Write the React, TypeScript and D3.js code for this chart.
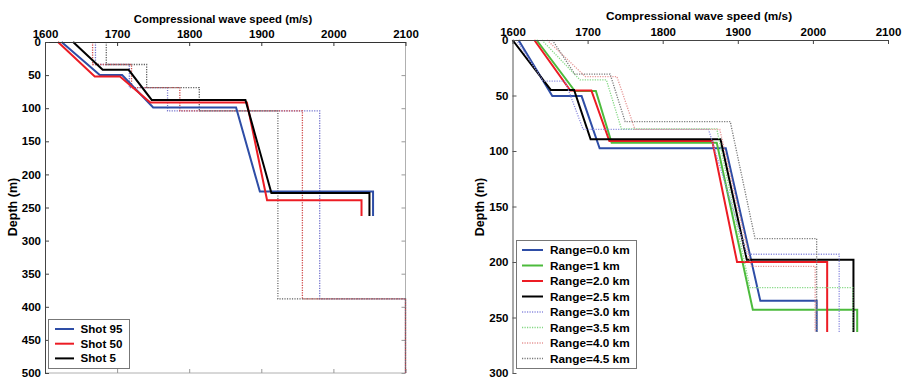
import { useEffect, useRef } from "react";
import * as d3 from "d3";

// shared axis values
const speedTicks = [1600, 1700, 1800, 1900, 2000, 2100];
const leftDepthTicks = [0, 50, 100, 150, 200, 250, 300, 350, 400, 450, 500];
const rightDepthTicks = [0, 50, 100, 150, 200, 250, 300];
const axisTitle = "Compressional wave speed (m/s)";
const depthTitle = "Depth (m)";

// left panel: profiles per shot
const shotNames = ["Shot 95", "Shot 50", "Shot 5"];
const shotColors = ["#2e4da6", "#ec1c24", "#000000"];
const shot95Speed = [1623, 1676, 1707, 1750, 1865, 1898, 2055, 2055];
const shot95Depth = [0, 50, 50, 99, 99, 226, 226, 263];
const shot50Speed = [1618, 1669, 1704, 1746, 1880, 1908, 2039, 2039];
const shot50Depth = [0, 52, 52, 91.5, 91.5, 239, 239, 263];
const shot5Speed = [1639, 1680, 1716, 1748, 1878, 1914, 2050, 2050];
const shot5Depth = [0, 42, 42, 87.5, 87.5, 228, 228, 263];

// left panel: dotted layered profiles (one speed per layer)
const layerDepths = [0, 34, 69, 104, 388, 500];
const layerBlueSpeed = [1670, 1717, 1770, 1981, 2100];
const layerRedSpeed = [1666, 1720, 1787, 1957, 2100];
const layerGraySpeed = [1685, 1741, 1814, 1923, 2100];

// right panel: profiles per range
const rangeNames = [
  "Range=0.0 km",
  "Range=1 km",
  "Range=2.0 km",
  "Range=2.5 km",
  "Range=3.0 km",
  "Range=3.5 km",
  "Range=4.0 km",
  "Range=4.5 km",
];
const rangeColors = ["#2e4da6", "#4cbb3c", "#ec1c24", "#000000", "#8e8ee0", "#84d884", "#e69696", "#7a7a7a"];
const rangeDotted = [false, false, false, false, true, true, true, true];
const range00Speed = [1608, 1653, 1692, 1716, 1884, 1930, 2005, 2005];
const range00Depth = [0, 50.5, 50.5, 97.6, 97.6, 235, 235, 263];
const range10Speed = [1632, 1683, 1711, 1732, 1872, 1920, 2059, 2059];
const range10Depth = [0, 46, 46, 92.5, 92.5, 243, 243, 263];
const range20Speed = [1629, 1677, 1705, 1729, 1866, 1899, 2019, 2019];
const range20Depth = [0, 45.5, 45.5, 91, 91, 200, 200, 263];
const range25Speed = [1600, 1651, 1682, 1704, 1877, 1912, 2054, 2054];
const range25Depth = [0, 45, 45, 89.5, 89.5, 198, 198, 263];
const range30Speed = [1605, 1641, 1670, 1694, 1861, 1912, 2035, 2035];
const range30Depth = [0, 37, 37, 80.5, 80.5, 193, 193, 263];
const range35Speed = [1639, 1690, 1725, 1745, 1872, 1916, 2053, 2053];
const range35Depth = [0, 36, 36, 80, 80, 223, 223, 263];
const range40Speed = [1646, 1697, 1739, 1763, 1876, 1918, 2003, 2003];
const range40Depth = [0, 33, 33, 80.5, 80.5, 204, 204, 263];
const range45Speed = [1653, 1683, 1730, 1750, 1890, 1923, 2005, 2005];
const range45Depth = [0, 30.7, 30.7, 73.6, 73.6, 179, 179, 263];

const FONT = "'Liberation Sans', Arial, sans-serif";
const DOT = "1.2,1.3";
const fmt = d3.format("d");

type Pt = [number, number];
const zipPts = (s: number[], d: number[]): Pt[] => s.map((v, i) => [v, d[i]]);
const layerPts = (s: number[], depths: number[]): Pt[] =>
  s.flatMap((v, i) => [
    [v, depths[i]] as Pt,
    [v, depths[i + 1]] as Pt,
  ]);

export default function App() {
  const svgRef = useRef<SVGSVGElement>(null);

  useEffect(() => {
    if (!svgRef.current) return;
    const svg = d3.select(svgRef.current);
    svg.selectAll("*").remove();

    const styleText = (g: d3.Selection<SVGGElement, unknown, null, undefined>) =>
      g
        .selectAll("text")
        .attr("font-size", 11.5)
        .attr("font-weight", "bold")
        .attr("font-family", FONT)
        .attr("fill", "#000");

    // ---------- left panel ----------
    const xL = d3.scaleLinear().domain([1600, 2100]).range([45, 405.5]);
    const yL = d3.scaleLinear().domain([0, 500]).range([42, 373]);
    const gL = svg.append("g");

    const lineL = d3
      .line<Pt>()
      .x((p) => xL(p[0]))
      .y((p) => yL(p[1]));

    // box edges (right / bottom lighter)
    gL.append("line").attr("x1", 405.5).attr("x2", 405.5).attr("y1", 42).attr("y2", 373).attr("stroke", "#b0b0b0");
    gL.append("line").attr("x1", 45).attr("x2", 405.5).attr("y1", 373).attr("y2", 373).attr("stroke", "#b0b0b0");
    gL.append("g")
      .attr("transform", "translate(0,373)")
      .call(d3.axisBottom(xL).tickValues(speedTicks).tickSize(-4).tickSizeOuter(0).tickFormat(() => ""))
      .call((g) => g.select(".domain").remove())
      .call((g) => g.selectAll("line").attr("stroke", "#999"));
    gL.append("g")
      .attr("transform", "translate(405.5,0)")
      .call(d3.axisRight(yL).tickValues(leftDepthTicks).tickSize(-4).tickSizeOuter(0).tickFormat(() => ""))
      .call((g) => g.select(".domain").remove())
      .call((g) => g.selectAll("line").attr("stroke", "#999"));

    const layered = [
      { s: layerBlueSpeed, c: "#7272cc" },
      { s: layerRedSpeed, c: "#cf4a4a" },
      { s: layerGraySpeed, c: "#606060" },
    ];
    layered.forEach((l) => {
      gL.append("path")
        .attr("d", lineL(layerPts(l.s, layerDepths)))
        .attr("fill", "none")
        .attr("stroke", l.c)
        .attr("stroke-width", 1.3)
        .attr("stroke-dasharray", DOT);
    });

    const shots = [
      zipPts(shot95Speed, shot95Depth),
      zipPts(shot50Speed, shot50Depth),
      zipPts(shot5Speed, shot5Depth),
    ];
    shots.forEach((pts, i) => {
      gL.append("path")
        .attr("d", lineL(pts))
        .attr("fill", "none")
        .attr("stroke", shotColors[i])
        .attr("stroke-width", 2);
    });

    gL.append("g")
      .attr("transform", "translate(0,42)")
      .call(d3.axisTop(xL).tickValues(speedTicks).tickSize(-4).tickSizeOuter(0).tickPadding(4).tickFormat((d) => fmt(d as number)))
      .call((g) => g.select(".domain").attr("stroke", "#333"))
      .call((g) => g.selectAll("line").attr("stroke", "#333"))
      .call(styleText);
    gL.append("g")
      .attr("transform", "translate(45,0)")
      .call(d3.axisLeft(yL).tickValues(leftDepthTicks).tickSize(-4).tickSizeOuter(0).tickPadding(4).tickFormat((d) => fmt(d as number)))
      .call((g) => g.select(".domain").attr("stroke", "#444"))
      .call((g) => g.selectAll("line").attr("stroke", "#444"))
      .call(styleText);

    gL.append("text")
      .attr("x", 223)
      .attr("y", 23)
      .attr("text-anchor", "middle")
      .attr("font-family", FONT)
      .attr("font-weight", "bold")
      .attr("font-size", 11.3)
      .text(axisTitle);
    gL.append("text")
      .attr("transform", "translate(17,207) rotate(-90)")
      .attr("text-anchor", "middle")
      .attr("font-family", FONT)
      .attr("font-weight", "bold")
      .attr("font-size", 12.5)
      .text(depthTitle);

    // left legend
    const lgL = gL.append("g");
    lgL.append("rect").attr("x", 48.5).attr("y", 319.5).attr("width", 81).attr("height", 49).attr("fill", "#fff").attr("stroke", "#777");
    shotNames.forEach((n, i) => {
      const yy = 329 + i * 14.7;
      lgL.append("line").attr("x1", 55).attr("x2", 74).attr("y1", yy).attr("y2", yy).attr("stroke", shotColors[i]).attr("stroke-width", 2);
      lgL.append("text")
        .attr("x", 80.5)
        .attr("y", yy)
        .attr("dy", "0.35em")
        .attr("font-family", FONT)
        .attr("font-weight", "bold")
        .attr("font-size", 11.6)
        .text(n);
    });

    // ---------- right panel ----------
    const xR = d3.scaleLinear().domain([1600, 2100]).range([512.5, 888]);
    const yR = d3.scaleLinear().domain([0, 300]).range([40, 373]);
    const gR = svg.append("g");
    const lineR = d3
      .line<Pt>()
      .x((p) => xR(p[0]))
      .y((p) => yR(p[1]));

    const ranges = [
      zipPts(range00Speed, range00Depth),
      zipPts(range10Speed, range10Depth),
      zipPts(range20Speed, range20Depth),
      zipPts(range25Speed, range25Depth),
      zipPts(range30Speed, range30Depth),
      zipPts(range35Speed, range35Depth),
      zipPts(range40Speed, range40Depth),
      zipPts(range45Speed, range45Depth),
    ];
    ranges.forEach((pts, i) => {
      gR.append("path")
        .attr("d", lineR(pts))
        .attr("fill", "none")
        .attr("stroke", rangeColors[i])
        .attr("stroke-width", rangeDotted[i] ? 1.3 : 2)
        .attr("stroke-dasharray", rangeDotted[i] ? DOT : null);
    });

    gR.append("g")
      .attr("transform", "translate(0,40)")
      .call(d3.axisTop(xR).tickValues(speedTicks).tickSize(-4).tickSizeOuter(0).tickPadding(4).tickFormat((d) => fmt(d as number)))
      .call((g) => g.select(".domain").attr("stroke", "#444"))
      .call((g) => g.selectAll("line").attr("stroke", "#444"))
      .call(styleText);
    gR.append("g")
      .attr("transform", "translate(512.5,0)")
      .call(d3.axisLeft(yR).tickValues(rightDepthTicks).tickSize(-4).tickSizeOuter(0).tickPadding(4).tickFormat((d) => fmt(d as number)))
      .call((g) => g.select(".domain").attr("stroke", "#555"))
      .call((g) => g.selectAll("line").attr("stroke", "#555"))
      .call(styleText);

    gR.append("text")
      .attr("x", 699)
      .attr("y", 19.5)
      .attr("text-anchor", "middle")
      .attr("font-family", FONT)
      .attr("font-weight", "bold")
      .attr("font-size", 11.8)
      .text(axisTitle);
    gR.append("text")
      .attr("transform", "translate(484,207) rotate(-90)")
      .attr("text-anchor", "middle")
      .attr("font-family", FONT)
      .attr("font-weight", "bold")
      .attr("font-size", 12.5)
      .text(depthTitle);

    // right legend
    const lgR = gR.append("g");
    lgR.append("rect").attr("x", 516.5).attr("y", 240.5).attr("width", 120).attr("height", 128).attr("fill", "#fff").attr("stroke", "#777");
    rangeNames.forEach((n, i) => {
      const yy = 250 + i * 15.5;
      lgR.append("line")
        .attr("x1", 522)
        .attr("x2", 543)
        .attr("y1", yy)
        .attr("y2", yy)
        .attr("stroke", rangeColors[i])
        .attr("stroke-width", rangeDotted[i] ? 1.3 : 2)
        .attr("stroke-dasharray", rangeDotted[i] ? DOT : null);
      lgR.append("text")
        .attr("x", 550)
        .attr("y", yy)
        .attr("dy", "0.35em")
        .attr("font-family", FONT)
        .attr("font-weight", "bold")
        .attr("font-size", 11.8)
        .text(n);
    });
  }, []);

  return (
    <svg
      ref={svgRef}
      width={903}
      height={380}
      style={{ position: "absolute", left: 0, top: 0, background: "#fff" }}
    />
  );
}
